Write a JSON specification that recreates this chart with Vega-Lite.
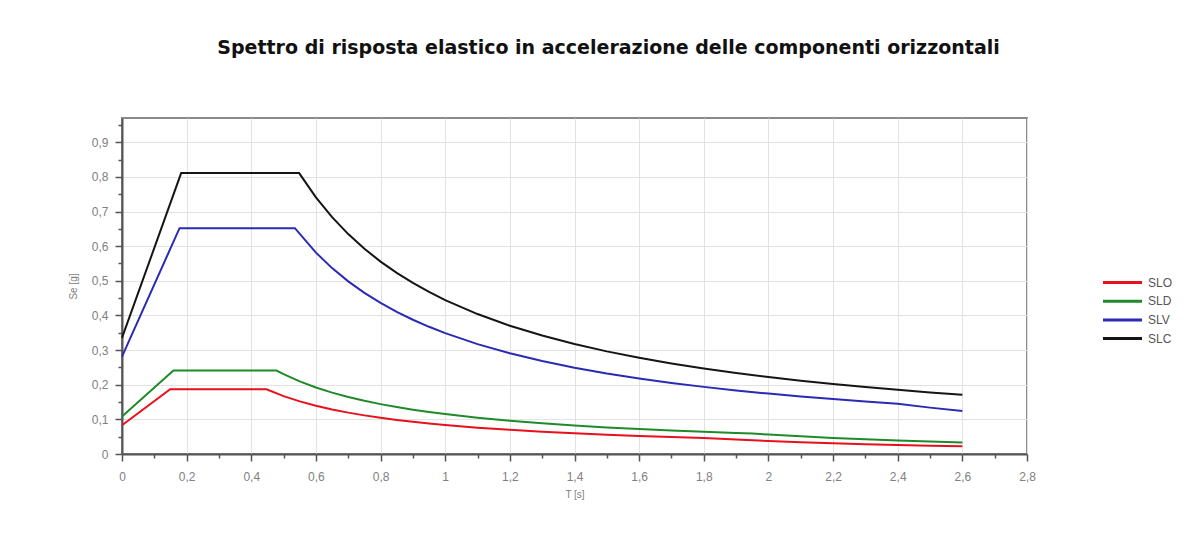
{
  "$schema": "https://vega.github.io/schema/vega-lite/v6.json",
  "width": 905,
  "height": 336,
  "autosize": {"type": "none"},
  "padding": {"left": 122, "top": 118, "right": 170, "bottom": 96},
  "background": "white",
  "title": {
    "text": "Spettro di risposta elastico in accelerazione delle componenti orizzontali",
    "font": "DejaVu Sans",
    "fontSize": 19,
    "fontWeight": "bold",
    "color": "#111111",
    "anchor": "middle",
    "dx": 34,
    "offset": 60
  },
  "config": {
    "view": {"stroke": "#8a8a8a", "strokeWidth": 2},
    "axis": {
      "labelFont": "Liberation Sans",
      "labelFontSize": 12,
      "labelColor": "#808080",
      "titleFont": "Liberation Sans",
      "titleFontSize": 10,
      "titleFontWeight": "normal",
      "titleColor": "#808080",
      "domainColor": "#555555",
      "domainWidth": 2,
      "tickColor": "#555555",
      "tickWidth": 1.5,
      "gridColor": "#e2e2e2",
      "gridWidth": 1
    }
  },
  "data": {
    "values": [
      {"s": "SLO", "T": 0, "Se": 0.083},
      {"s": "SLO", "T": 0.149, "Se": 0.187},
      {"s": "SLO", "T": 0.447, "Se": 0.187},
      {"s": "SLO", "T": 0.5, "Se": 0.1672},
      {"s": "SLO", "T": 0.55, "Se": 0.152},
      {"s": "SLO", "T": 0.6, "Se": 0.1393},
      {"s": "SLO", "T": 0.65, "Se": 0.1286},
      {"s": "SLO", "T": 0.7, "Se": 0.1194},
      {"s": "SLO", "T": 0.75, "Se": 0.1115},
      {"s": "SLO", "T": 0.8, "Se": 0.1045},
      {"s": "SLO", "T": 0.85, "Se": 0.0983},
      {"s": "SLO", "T": 0.9, "Se": 0.0929},
      {"s": "SLO", "T": 0.95, "Se": 0.088},
      {"s": "SLO", "T": 1.0, "Se": 0.0836},
      {"s": "SLO", "T": 1.1, "Se": 0.076},
      {"s": "SLO", "T": 1.2, "Se": 0.0697},
      {"s": "SLO", "T": 1.3, "Se": 0.0643},
      {"s": "SLO", "T": 1.4, "Se": 0.0597},
      {"s": "SLO", "T": 1.5, "Se": 0.0557},
      {"s": "SLO", "T": 1.6, "Se": 0.0522},
      {"s": "SLO", "T": 1.7, "Se": 0.0492},
      {"s": "SLO", "T": 1.8, "Se": 0.0464},
      {"s": "SLO", "T": 1.9, "Se": 0.0417},
      {"s": "SLO", "T": 2.0, "Se": 0.0376},
      {"s": "SLO", "T": 2.1, "Se": 0.0341},
      {"s": "SLO", "T": 2.2, "Se": 0.0311},
      {"s": "SLO", "T": 2.3, "Se": 0.0284},
      {"s": "SLO", "T": 2.4, "Se": 0.0261},
      {"s": "SLO", "T": 2.5, "Se": 0.0241},
      {"s": "SLO", "T": 2.6, "Se": 0.0223},

      {"s": "SLD", "T": 0, "Se": 0.108},
      {"s": "SLD", "T": 0.159, "Se": 0.241},
      {"s": "SLD", "T": 0.478, "Se": 0.241},
      {"s": "SLD", "T": 0.5, "Se": 0.2304},
      {"s": "SLD", "T": 0.55, "Se": 0.2095},
      {"s": "SLD", "T": 0.6, "Se": 0.192},
      {"s": "SLD", "T": 0.65, "Se": 0.1772},
      {"s": "SLD", "T": 0.7, "Se": 0.1646},
      {"s": "SLD", "T": 0.75, "Se": 0.1536},
      {"s": "SLD", "T": 0.8, "Se": 0.144},
      {"s": "SLD", "T": 0.85, "Se": 0.1355},
      {"s": "SLD", "T": 0.9, "Se": 0.128},
      {"s": "SLD", "T": 0.95, "Se": 0.1213},
      {"s": "SLD", "T": 1.0, "Se": 0.1152},
      {"s": "SLD", "T": 1.1, "Se": 0.1047},
      {"s": "SLD", "T": 1.2, "Se": 0.096},
      {"s": "SLD", "T": 1.3, "Se": 0.0886},
      {"s": "SLD", "T": 1.4, "Se": 0.0823},
      {"s": "SLD", "T": 1.5, "Se": 0.0768},
      {"s": "SLD", "T": 1.6, "Se": 0.072},
      {"s": "SLD", "T": 1.7, "Se": 0.0678},
      {"s": "SLD", "T": 1.8, "Se": 0.064},
      {"s": "SLD", "T": 1.9, "Se": 0.0606},
      {"s": "SLD", "T": 1.95, "Se": 0.0591},
      {"s": "SLD", "T": 2.0, "Se": 0.0562},
      {"s": "SLD", "T": 2.1, "Se": 0.0509},
      {"s": "SLD", "T": 2.2, "Se": 0.0464},
      {"s": "SLD", "T": 2.3, "Se": 0.0425},
      {"s": "SLD", "T": 2.4, "Se": 0.039},
      {"s": "SLD", "T": 2.5, "Se": 0.0359},
      {"s": "SLD", "T": 2.6, "Se": 0.0332},

      {"s": "SLV", "T": 0, "Se": 0.281},
      {"s": "SLV", "T": 0.178, "Se": 0.652},
      {"s": "SLV", "T": 0.535, "Se": 0.652},
      {"s": "SLV", "T": 0.6, "Se": 0.5814},
      {"s": "SLV", "T": 0.65, "Se": 0.5366},
      {"s": "SLV", "T": 0.7, "Se": 0.4983},
      {"s": "SLV", "T": 0.75, "Se": 0.4651},
      {"s": "SLV", "T": 0.8, "Se": 0.436},
      {"s": "SLV", "T": 0.85, "Se": 0.4104},
      {"s": "SLV", "T": 0.9, "Se": 0.3876},
      {"s": "SLV", "T": 0.95, "Se": 0.3672},
      {"s": "SLV", "T": 1.0, "Se": 0.3488},
      {"s": "SLV", "T": 1.1, "Se": 0.3171},
      {"s": "SLV", "T": 1.2, "Se": 0.2907},
      {"s": "SLV", "T": 1.3, "Se": 0.2683},
      {"s": "SLV", "T": 1.4, "Se": 0.2492},
      {"s": "SLV", "T": 1.5, "Se": 0.2325},
      {"s": "SLV", "T": 1.6, "Se": 0.218},
      {"s": "SLV", "T": 1.7, "Se": 0.2052},
      {"s": "SLV", "T": 1.8, "Se": 0.1938},
      {"s": "SLV", "T": 1.9, "Se": 0.1836},
      {"s": "SLV", "T": 2.0, "Se": 0.1744},
      {"s": "SLV", "T": 2.1, "Se": 0.1661},
      {"s": "SLV", "T": 2.2, "Se": 0.1586},
      {"s": "SLV", "T": 2.3, "Se": 0.1517},
      {"s": "SLV", "T": 2.4, "Se": 0.1453},
      {"s": "SLV", "T": 2.5, "Se": 0.1339},
      {"s": "SLV", "T": 2.6, "Se": 0.1238},

      {"s": "SLC", "T": 0, "Se": 0.335},
      {"s": "SLC", "T": 0.183, "Se": 0.811},
      {"s": "SLC", "T": 0.548, "Se": 0.811},
      {"s": "SLC", "T": 0.6, "Se": 0.7407},
      {"s": "SLC", "T": 0.65, "Se": 0.6837},
      {"s": "SLC", "T": 0.7, "Se": 0.6349},
      {"s": "SLC", "T": 0.75, "Se": 0.5926},
      {"s": "SLC", "T": 0.8, "Se": 0.5555},
      {"s": "SLC", "T": 0.85, "Se": 0.5229},
      {"s": "SLC", "T": 0.9, "Se": 0.4938},
      {"s": "SLC", "T": 0.95, "Se": 0.4678},
      {"s": "SLC", "T": 1.0, "Se": 0.4444},
      {"s": "SLC", "T": 1.1, "Se": 0.404},
      {"s": "SLC", "T": 1.2, "Se": 0.3704},
      {"s": "SLC", "T": 1.3, "Se": 0.3419},
      {"s": "SLC", "T": 1.4, "Se": 0.3175},
      {"s": "SLC", "T": 1.5, "Se": 0.2963},
      {"s": "SLC", "T": 1.6, "Se": 0.2778},
      {"s": "SLC", "T": 1.7, "Se": 0.2614},
      {"s": "SLC", "T": 1.8, "Se": 0.2469},
      {"s": "SLC", "T": 1.9, "Se": 0.2339},
      {"s": "SLC", "T": 2.0, "Se": 0.2222},
      {"s": "SLC", "T": 2.1, "Se": 0.2116},
      {"s": "SLC", "T": 2.2, "Se": 0.202},
      {"s": "SLC", "T": 2.3, "Se": 0.1932},
      {"s": "SLC", "T": 2.4, "Se": 0.1852},
      {"s": "SLC", "T": 2.5, "Se": 0.1778},
      {"s": "SLC", "T": 2.6, "Se": 0.1709}
    ]
  },
  "mark": {"type": "line", "strokeWidth": 2, "interpolate": "linear"},
  "encoding": {
    "x": {
      "field": "T",
      "type": "quantitative",
      "scale": {"domain": [0, 2.8], "nice": false, "zero": false},
      "axis": {
        "title": "T [s]",
        "titlePadding": 7,
        "values": [0, 0.1, 0.2, 0.3, 0.4, 0.5, 0.6, 0.7, 0.8, 0.9, 1, 1.1, 1.2, 1.3, 1.4, 1.5, 1.6, 1.7, 1.8, 1.9, 2, 2.1, 2.2, 2.3, 2.4, 2.5, 2.6, 2.7, 2.8],
        "labelExpr": "abs(datum.value * 5 - round(datum.value * 5)) < 0.001 ? replace(format(datum.value, '~g'), '.', ',') : ''",
        "labelOverlap": false,
        "labelFlush": false,
        "labelPadding": 10,
        "tickSize": {"condition": {"test": "abs(datum.value * 5 - round(datum.value * 5)) < 0.001", "value": 7}, "value": 4},
        "gridOpacity": {"condition": {"test": "abs(datum.value * 5 - round(datum.value * 5)) < 0.001", "value": 1}, "value": 0}
      }
    },
    "y": {
      "field": "Se",
      "type": "quantitative",
      "scale": {"domain": [0, 0.97], "nice": false},
      "axis": {
        "title": "Se [g]",
        "titlePadding": 13,
        "values": [0, 0.05, 0.1, 0.15, 0.2, 0.25, 0.3, 0.35, 0.4, 0.45, 0.5, 0.55, 0.6, 0.65, 0.7, 0.75, 0.8, 0.85, 0.9, 0.95],
        "labelExpr": "abs(datum.value * 10 - round(datum.value * 10)) < 0.001 ? replace(format(datum.value, '~g'), '.', ',') : ''",
        "labelOverlap": false,
        "labelFlush": false,
        "labelPadding": 7,
        "tickSize": {"condition": {"test": "abs(datum.value * 10 - round(datum.value * 10)) < 0.001", "value": 7}, "value": 4},
        "gridOpacity": {"condition": {"test": "abs(datum.value * 10 - round(datum.value * 10)) < 0.001", "value": 1}, "value": 0}
      }
    },
    "color": {
      "field": "s",
      "type": "nominal",
      "scale": {"domain": ["SLO", "SLD", "SLV", "SLC"], "range": ["#e8101c", "#1f8a2a", "#2a2ab4", "#151515"]},
      "legend": {
        "title": null,
        "orient": "none",
        "legendX": 994,
        "legendY": 158,
        "padding": 0,
        "symbolType": "M-4,0H4",
        "symbolSize": 95,
        "symbolStrokeWidth": 3,
        "rowPadding": 5.7,
        "labelFont": "Liberation Sans",
        "labelFontSize": 12,
        "labelColor": "#555555",
        "labelOffset": 19
      }
    }
  }
}
